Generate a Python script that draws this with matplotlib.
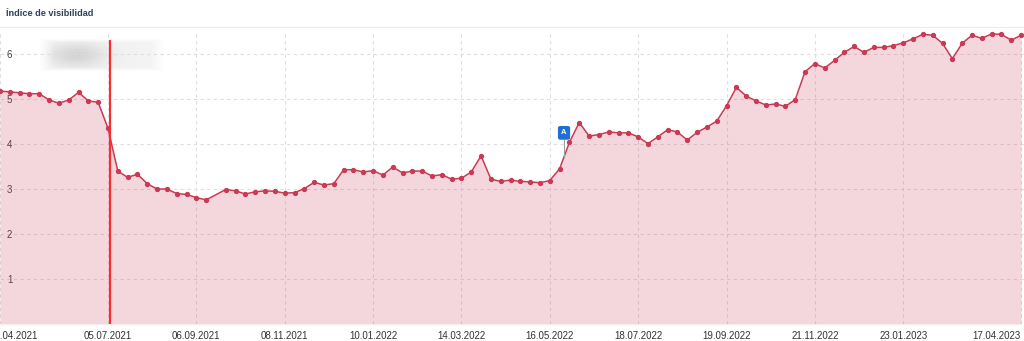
import numpy as np
import pandas as pd
import matplotlib
matplotlib.use('Agg')
import matplotlib.pyplot as plt
import matplotlib.transforms as mtransforms
from matplotlib.lines import Line2D

plt.rcParams['font.family'] = ['Liberation Sans', 'DejaVu Sans']

# datos semanales (índice de visibilidad), 19.04.2021 - 17.04.2023
dates = pd.date_range('2021-04-19', periods=105, freq='7D')
values = [5.18, 5.16, 5.14, 5.12, 5.12, 4.98, 4.91, 4.98, 5.15, 4.96,
          4.93, 4.35, 3.40, 3.26, 3.33, 3.12, 3.00, 3.00, 2.90, 2.88,
          2.81, 2.76, np.nan, 2.99, 2.96, 2.89, 2.94, 2.96, 2.95, 2.91,
          2.92, 3.01, 3.15, 3.09, 3.12, 3.43, 3.43, 3.38, 3.41, 3.31,
          3.49, 3.36, 3.40, 3.40, 3.29, 3.32, 3.22, 3.24, 3.38, 3.74,
          3.22, 3.17, 3.20, 3.17, 3.16, 3.14, 3.19, 3.45, 4.04, 4.48,
          4.18, 4.21, 4.27, 4.25, 4.25, 4.16, 4.01, 4.16, 4.32, 4.27,
          4.09, 4.26, 4.38, 4.51, 4.85, 5.26, 5.07, 4.96, 4.87, 4.89,
          4.84, 4.99, 5.61, 5.79, 5.69, 5.86, 6.04, 6.17, 6.04, 6.15,
          6.15, 6.19, 6.25, 6.34, 6.44, 6.42, 6.24, 5.90, 6.24, 6.42,
          6.35, 6.45, 6.44, 6.31, 6.42]
tick_labels = ['19.04.2021', '05.07.2021', '06.09.2021', '08.11.2021', '10.01.2022',
               '14.03.2022', '16.05.2022', '18.07.2022', '19.09.2022', '21.11.2022',
               '23.01.2023', '17.04.2023']
y_ticks = [1, 2, 3, 4, 5, 6]
title = 'Índice de visibilidad'

# marcadores: línea roja (update) y nota "A"
red_line_x = 11.25
note_x = 57.45

line_col = '#c93a55'
x_all = np.arange(len(dates))
vals = np.array(values, dtype=float)
ok = ~np.isnan(vals)
x = x_all[ok]
y = vals[ok]

fig = plt.figure(figsize=(10.24, 3.41), dpi=100)

# zona difuminada (texto oculto), debajo del gráfico
bax = fig.add_axes([38 / 1024, 1 - 72 / 341, 128 / 1024, 34 / 341], zorder=0)
gx, gy = np.meshgrid(np.linspace(0, 1, 128), np.linspace(0, 1, 34))
fade = np.clip(np.minimum.reduce([gx, 1 - gx, gy, 1 - gy]) / 0.12, 0, 1)
blob = 0.12 * np.exp(-((gx - 0.3) / 0.22) ** 2 - ((gy - 0.5) / 0.35) ** 2)
img = 1 - (0.05 + blob) * fade
bax.imshow(img, cmap='gray', vmin=0, vmax=1, aspect='auto', interpolation='bilinear')
bax.axis('off')

ax = fig.add_axes([0, 17 / 341, 1, (324 - 33) / 341], zorder=2)
ax.patch.set_alpha(0)

ax.fill_between(x, y, 0, color=line_col, alpha=0.2, lw=0, zorder=2)
ax.plot(x, y, color=line_col, lw=1.1, marker='o', ms=2.8, mec=line_col,
        mfc=line_col, zorder=3, clip_on=False)

ax.set_xlim(0.15, 104.3)
ax.set_ylim(0, 6.47)

labels_str = [d.strftime('%d.%m.%Y') for d in dates]
tick_pos = [labels_str.index(t) for t in tick_labels]
ax.set_xticks(tick_pos)
ax.set_xticklabels(tick_labels)
ax.set_yticks(y_ticks)
ax.set_yticklabels([str(v) for v in y_ticks])

ax.tick_params(axis='x', length=0, pad=5, labelsize=7, labelcolor='#333333')
ax.tick_params(axis='y', length=0, pad=-5, labelsize=7, labelcolor='#444444')
for lab in ax.get_yticklabels():
    lab.set_horizontalalignment('left')
xl = ax.get_xticklabels()
xl[0].set_transform(xl[0].get_transform() +
                    mtransforms.ScaledTranslation(13 / 100, 0, fig.dpi_scale_trans))
xl[-1].set_horizontalalignment('right')

ax.grid(True, color='#dedede', ls=(0, (3, 3)), lw=0.8)
ax.set_axisbelow(True)
for s in ax.spines.values():
    s.set_visible(False)

# línea roja vertical
ax.plot([red_line_x, red_line_x], [0, 6.3], color='#ff2a2a', lw=1.5, zorder=4)

# nota "A"
y_note = np.interp(note_x, x, y)
ax.plot([note_x, note_x], [y_note, 4.1], color='#9aa0a6', lw=0.8, zorder=4)
ax.text(note_x, 4.25, 'A', color='white', fontsize=5.5, fontweight='bold',
        ha='center', va='center', zorder=5,
        bbox=dict(boxstyle='round,pad=0.35,rounding_size=0.2', fc='#1f6fd6', ec='#1f6fd6'))

# título y separador
fig.text(6 / 1024, 1 - 13 / 341, title, fontsize=6.6, fontweight='bold',
         color='#2e4057', ha='left', va='center')
fig.add_artist(Line2D([0, 1], [1 - 27 / 341, 1 - 27 / 341], color='#ececec', lw=0.8))

fig.savefig('out.png', dpi=100)
